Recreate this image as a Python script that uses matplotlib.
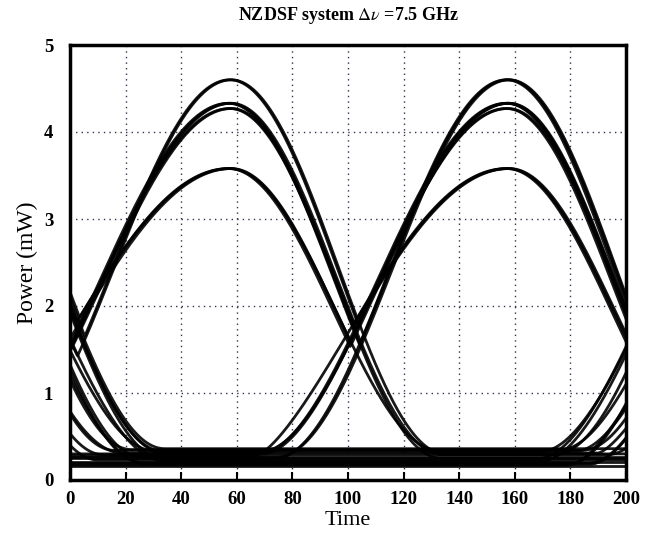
import numpy as np
import matplotlib
matplotlib.use('Agg')
import matplotlib.pyplot as plt

plt.rcParams['font.family'] = ['Liberation Serif', 'DejaVu Serif']
plt.rcParams['mathtext.fontset'] = 'stix'

# pulse shapes: peak power (mW),
# rise / fall half-width (time units) and edge sharpness
pulse_peak = {'A': 4.60, 'B': 4.33, 'C': 4.27, 'D': 3.58}
pulse_rise = {'A': 84, 'B': 88, 'C': 88, 'D': 90}
pulse_fall = {'A': 77, 'B': 76, 'C': 76, 'D': 76}
rise_pow = {'A': 2.0, 'B': 1.8, 'C': 1.8, 'D': 1.4}
fall_pow = {'A': 2.0, 'B': 2.0, 'C': 2.0, 'D': 2.0}

# one row per trace of the eye: floor level (mW) and its pulses (type, centre time)
trace_floor = [0.30, 0.28, 0.32, 0.26, 0.30, 0.25, 0.33, 0.29, 0.31, 0.27,
               0.24, 0.30, 0.33, 0.28, 0.26, 0.31, 0.22, 0.35, 0.20, 0.34,
               0.18, 0.25, 0.21, 0.36, 0.17, 0.31, 0.23, 0.27, 0.19, 0.33,
               0.29, 0.16]
trace_pulses = [
    [('A', 57.5), ('B', 157.5), ('A', -42.5)],
    [('B', 57.0), ('A', 157.5)],
    [('C', 57.5), ('D', 158.0), ('B', 257.5)],
    [('D', 58.0), ('C', 157.0), ('D', -42.0)],
    [('A', 58.0), ('D', -43.0)],
    [('B', 57.5), ('B', 257.0)],
    [('D', 57.5), ('A', -42.0), ('C', 258.0)],
    [('C', 58.0), ('A', 258.0)],
    [('B', 58.0), ('D', 157.5)],
    [('D', 57.0), ('B', 158.0), ('A', -43.0)],
    [('A', 157.0), ('C', -42.0)],
    [('B', 157.5), ('D', 258.0)],
    [('C', 157.5), ('B', -42.5)],
    [('D', 157.0), ('A', 257.0)],
    [('A', 158.0), ('B', -50.0)],
    [('B', 157.0), ('C', -42.0)],
    [('D', -42.0), ('B', 258.0)],
    [('A', -55.0), ('C', 265.0)],
    [('C', -50.0), ('D', 272.0)],
    [('B', -60.0), ('A', 268.0)],
    [('D', -48.0), ('B', 275.0)],
    [],
    [],
    [('B', -42.0)],
    [('A', 262.0)],
    [('D', -57.0), ('D', 280.0)],
    [('C', -66.0)],
    [],
    [('A', 270.0)],
    [('D', -45.0), ('C', 270.0)],
    [('B', -64.0), ('A', 277.0)],
    [],
]

x_ticks = [0, 20, 40, 60, 80, 100, 120, 140, 160, 180, 200]
y_ticks = [0, 1, 2, 3, 4, 5]

t = np.linspace(0, 200, 801)


def pulse(kind, centre, floor):
    # cosine edges, separate widths for the rising and falling side
    d = t - centre
    w = np.where(d < 0, pulse_rise[kind], pulse_fall[kind])
    n = np.where(d < 0, rise_pow[kind], fall_pow[kind])
    c = np.clip(np.cos(np.pi * np.clip(np.abs(d) / w, 0, 1) / 2), 0, 1)
    return floor + (pulse_peak[kind] - floor) * c ** n


fig = plt.figure(figsize=(6.46, 5.38), dpi=100)
ax = fig.add_axes([70 / 646, 1 - 480 / 538, 556 / 646, 435 / 538])

for floor, pulses in zip(trace_floor, trace_pulses):
    y = np.full_like(t, floor)
    for kind, centre in pulses:
        y = np.maximum(y, pulse(kind, centre, floor))
    ax.plot(t, y, color='black', lw=2.0, alpha=0.9)

ax.set_xlim(0, 200)
ax.set_ylim(0, 5)
ax.set_xticks(x_ticks)
ax.set_yticks(y_ticks)
ax.grid(True, linestyle=(0, (1, 3)), color='#33334d', lw=1.0)
ax.set_axisbelow(True)
ax.tick_params(axis='x', direction='in', length=6, width=1.5, pad=8)
ax.tick_params(axis='y', direction='in', length=0, pad=12)
for lab in ax.get_xticklabels() + ax.get_yticklabels():
    lab.set_fontsize(13.5)
    lab.set_fontweight('bold')
for sp in ax.spines.values():
    sp.set_linewidth(2.5)

ax.set_xlabel('Time', fontsize=16, labelpad=2)
ax.set_ylabel('Power (mW)', fontsize=17, labelpad=4)
fig.text(348 / 646, 1 - 16 / 538, r'NZDSF system $\Delta\nu$ =7.5 GHz',
         ha='center', va='center', fontsize=13, fontweight='bold')

fig.savefig('out.png', dpi=100)
